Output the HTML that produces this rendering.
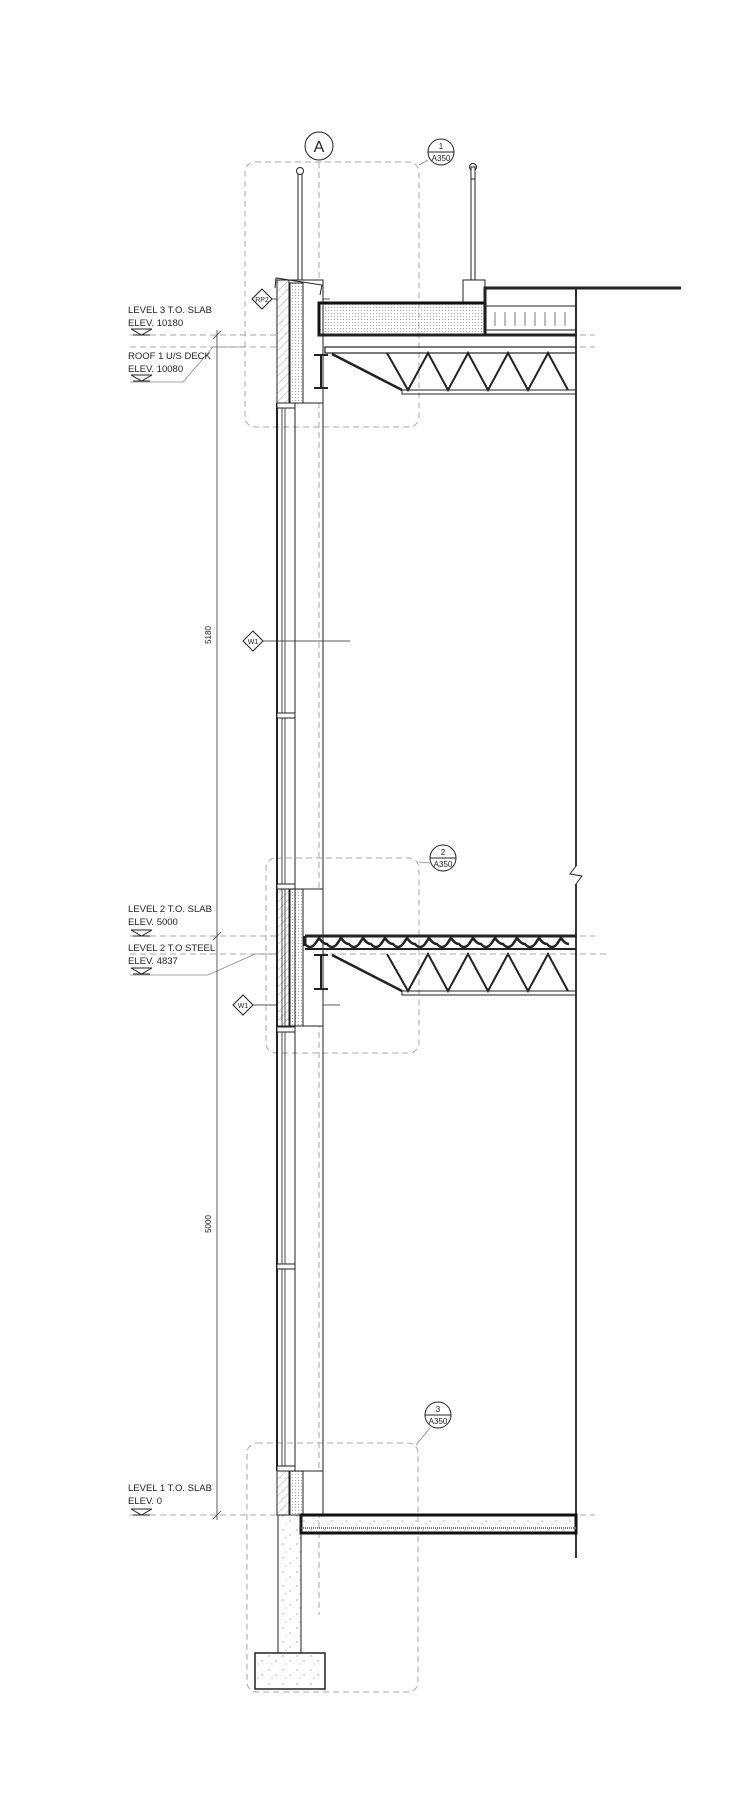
<!DOCTYPE html>
<html><head><style>html,body{margin:0;padding:0;background:#fff}svg{display:block}text{font-family:"Liberation Sans",sans-serif;fill:#222}</style></head><body>
<svg width="730" height="1808" viewBox="0 0 730 1808" xmlns="http://www.w3.org/2000/svg">
<defs>
<pattern id="hatch" width="6" height="6" patternUnits="userSpaceOnUse" patternTransform="rotate(45)"><line x1="0" y1="0" x2="0" y2="6" stroke="#666" stroke-width="0.6"/></pattern>
<pattern id="dots" width="3" height="3" patternUnits="userSpaceOnUse"><circle cx="1.5" cy="1.5" r="0.5" fill="#888"/></pattern>
<pattern id="conc" width="14" height="14" patternUnits="userSpaceOnUse"><circle cx="3" cy="4" r="0.6" fill="#777"/><circle cx="10" cy="9" r="0.6" fill="#777"/><circle cx="6" cy="12" r="0.5" fill="#777"/></pattern>
</defs>
<g fill="none" stroke="#aaa" stroke-width="1" stroke-dasharray="6,4">
<rect x="245" y="162" width="174" height="265" rx="10"/>
<rect x="266" y="858" width="153" height="195" rx="10"/>
<rect x="247" y="1443" width="171" height="249" rx="10"/>
<line x1="319" y1="162" x2="319" y2="1615"/>
<line x1="130" y1="335" x2="595" y2="335"/>
<line x1="130" y1="347" x2="595" y2="347"/>
<line x1="130" y1="936" x2="595" y2="936"/>
<line x1="130" y1="954" x2="610" y2="954"/>
<line x1="130" y1="1515" x2="595" y2="1515"/>
</g>
<g stroke="#888" stroke-width="0.8" fill="none">
<polyline points="130,382 183,382 213,347 245,347"/>
<polyline points="130,975 208,975 255,954 277,954"/>
<line x1="419" y1="165" x2="428" y2="160"/>
<line x1="419" y1="862" x2="430" y2="863"/>
<line x1="416" y1="1445" x2="430" y2="1428"/>
</g>
<g stroke="#333" stroke-width="0.8">
<line x1="217" y1="330" x2="217" y2="1520"/>
<line x1="213" y1="339" x2="221" y2="331"/>
<line x1="213" y1="940" x2="221" y2="932"/>
<line x1="213" y1="1519" x2="221" y2="1511"/>
</g>
<text x="211" y="635" font-size="8" transform="rotate(-90 211 635)" text-anchor="middle">5180</text>
<text x="211" y="1224" font-size="8" transform="rotate(-90 211 1224)" text-anchor="middle">5000</text>
<g font-size="9.5">
<text x="128" y="313">LEVEL 3 T.O. SLAB</text><text x="128" y="326">ELEV. 10180</text>
<text x="128" y="359">ROOF 1 U/S DECK</text><text x="128" y="372">ELEV. 10080</text>
<text x="128" y="912">LEVEL 2 T.O. SLAB</text><text x="128" y="925">ELEV. 5000</text>
<text x="128" y="951">LEVEL 2 T.O STEEL</text><text x="128" y="964">ELEV. 4837</text>
<text x="128" y="1491">LEVEL 1 T.O. SLAB</text><text x="128" y="1504">ELEV. 0</text>
</g>
<g fill="none" stroke="#222" stroke-width="1">
<path d="M131,329 H152 M131,329 L141.5,335 L152,329 M133,335 H150"/>
<path d="M131,375 H152 M131,375 L141.5,381 L152,375 M133,381 H150"/>
<path d="M131,930 H152 M131,930 L141.5,936 L152,930 M133,936 H150"/>
<path d="M131,968 H152 M131,968 L141.5,974 L152,968 M133,974 H150"/>
<path d="M131,1509 H152 M131,1509 L141.5,1515 L152,1509 M133,1515 H150"/>
</g>
<g fill="#fff" stroke="#222" stroke-width="1">
<circle cx="319" cy="146" r="14"/>
<circle cx="441" cy="152" r="13"/><line x1="428" y1="152" x2="454" y2="152"/>
<circle cx="443" cy="858" r="13"/><line x1="430" y1="858" x2="456" y2="858"/>
<circle cx="438" cy="1415" r="13"/><line x1="425" y1="1415" x2="451" y2="1415"/>
</g>
<text x="319" y="152" font-size="16" text-anchor="middle">A</text>
<g font-size="8" text-anchor="middle">
<text x="441" y="149">1</text><text x="441" y="161">A350</text>
<text x="443" y="855">2</text><text x="443" y="867">A350</text>
<text x="438" y="1412">3</text><text x="438" y="1424">A350</text>
</g>
<g stroke="#222" stroke-width="0.8">
<line x1="270" y1="299" x2="330" y2="299"/>
<line x1="262" y1="641" x2="350" y2="641"/>
<line x1="252" y1="1005" x2="340" y2="1005"/>
</g>
<g fill="#fff" stroke="#222" stroke-width="1">
<path d="M262,289 L272,299 L262,309 L252,299 Z"/>
<path d="M253,631 L263,641 L253,651 L243,641 Z"/>
<path d="M243,995 L253,1005 L243,1015 L233,1005 Z"/>
</g>
<g font-size="7" text-anchor="middle"><text x="262" y="302">RP2</text><text x="253" y="644">W1</text><text x="243" y="1008">W1</text></g>
<g stroke="#222" fill="#fff" stroke-width="1">
<rect x="298" y="172" width="4" height="111"/><circle cx="300" cy="171" r="3.5"/>
<rect x="471" y="178" width="4" height="102"/><circle cx="473" cy="167" r="3.5"/><rect x="471" y="167" width="4" height="12"/>
<rect x="463" y="280" width="22" height="22"/>
</g>
<g stroke="#222" stroke-width="1">
<rect x="277" y="280" width="46" height="123" fill="#fff"/>
<rect x="277" y="280" width="12" height="123" fill="url(#hatch)"/>
<rect x="290" y="283" width="13" height="120" fill="url(#dots)"/>
<rect x="277" y="889" width="46" height="137" fill="#fff"/>
<rect x="277" y="889" width="12" height="137" fill="url(#hatch)"/>
<rect x="290" y="889" width="13" height="137" fill="url(#dots)"/>
<rect x="277" y="1471" width="46" height="44" fill="#fff"/>
<rect x="277" y="1471" width="12" height="44" fill="url(#hatch)"/>
<rect x="290" y="1471" width="13" height="44" fill="url(#dots)"/>
<polyline points="275,288 276,278 322,285 320,295" fill="none"/>
</g>
<g stroke="#222" fill="none">
<line x1="277" y1="403" x2="277" y2="1471" stroke-width="2"/>
<line x1="282" y1="403" x2="282" y2="1471" stroke-width="0.8"/>
<line x1="285" y1="403" x2="285" y2="1471" stroke-width="0.8"/>
<line x1="295" y1="403" x2="295" y2="1471" stroke-width="1"/>
<line x1="323" y1="403" x2="323" y2="1471" stroke-width="1"/>
<g fill="#fff" stroke-width="1">
<rect x="277" y="403" width="18" height="5"/><rect x="277" y="884" width="18" height="5"/>
<rect x="277" y="1027" width="18" height="5"/><rect x="277" y="1466" width="18" height="5"/>
<rect x="277" y="713" width="18" height="5"/><rect x="277" y="1264" width="18" height="5"/>
</g>
</g>
<rect x="319" y="303" width="166" height="32" fill="url(#dots)" stroke="#111" stroke-width="3"/>
<g stroke="#222" fill="none">
<polyline points="485,303 485,288 681,288" stroke-width="3"/>
<rect x="485" y="288" width="91" height="47" stroke-width="1.5"/>
<line x1="485" y1="306" x2="576" y2="306"/><line x1="485" y1="330" x2="576" y2="330"/>
<path d="M495,312 V326 M505,312 V326 M515,312 V326 M525,312 V326 M535,312 V326 M545,312 V326 M555,312 V326 M565,312 V326" stroke-width="0.6"/>
<line x1="319" y1="335" x2="576" y2="335" stroke-width="3"/>
<rect x="325" y="347" width="251" height="6" stroke-width="1.2"/>
<rect x="402" y="390" width="174" height="4" stroke-width="1"/>
<polyline points="332,354 402,390" stroke-width="2.5"/>
<polyline points="387,353 408,390 428,353 448,390 468,353 488,390 508,353 528,390 548,353 568,390" stroke-width="2"/>
<path d="M314,355 H328 M321,355 V388 M314,388 H328" stroke-width="2"/>
<line x1="576" y1="288" x2="576" y2="866" stroke-width="1.8"/>
<polyline points="576,866 570,874 582,876 576,884" stroke-width="1"/>
<line x1="576" y1="884" x2="576" y2="1558" stroke-width="1.8"/>
<path d="M305,936 H576 M305,936 V946" stroke-width="3"/>
<path d="M305,944 q5,6 10,0 l4,-6 q4,6 8,6 q5,6 10,0 l4,-6 q4,6 8,6 q5,6 10,0 l4,-6 q4,6 8,6 q5,6 10,0 l4,-6 q4,6 8,6 q5,6 10,0 l4,-6 q4,6 8,6 q5,6 10,0 l4,-6 q4,6 8,6 q5,6 10,0 l4,-6 q4,6 8,6 q5,6 10,0 l4,-6 q4,6 8,6 q5,6 10,0 l4,-6 q4,6 8,6 q5,6 10,0 l4,-6 q4,6 8,6 q5,6 10,0 l4,-6 q4,6 8,6 q5,6 10,0 l4,-6 q4,6 8,6" stroke-width="2.5"/>
<line x1="305" y1="949" x2="576" y2="949" stroke-width="2"/>
<rect x="402" y="991" width="174" height="4" stroke-width="1"/>
<polyline points="332,955 402,991" stroke-width="2.5"/>
<polyline points="387,954 408,991 428,954 448,991 468,954 488,991 508,954 528,991 548,954 568,991" stroke-width="2"/>
<path d="M314,955 H328 M321,955 V989 M314,989 H328" stroke-width="2"/>
</g>
<rect x="301" y="1515" width="275" height="18" fill="url(#conc)" stroke="#111" stroke-width="3"/>
<line x1="301" y1="1528" x2="576" y2="1528" stroke="#777" stroke-width="2" stroke-dasharray="1,1"/>
<rect x="278" y="1515" width="23" height="138" fill="url(#conc)" stroke="#222" stroke-width="1"/>
<rect x="255" y="1653" width="70" height="36" fill="url(#conc)" stroke="#222" stroke-width="1.5"/>
</svg>
</body></html>
